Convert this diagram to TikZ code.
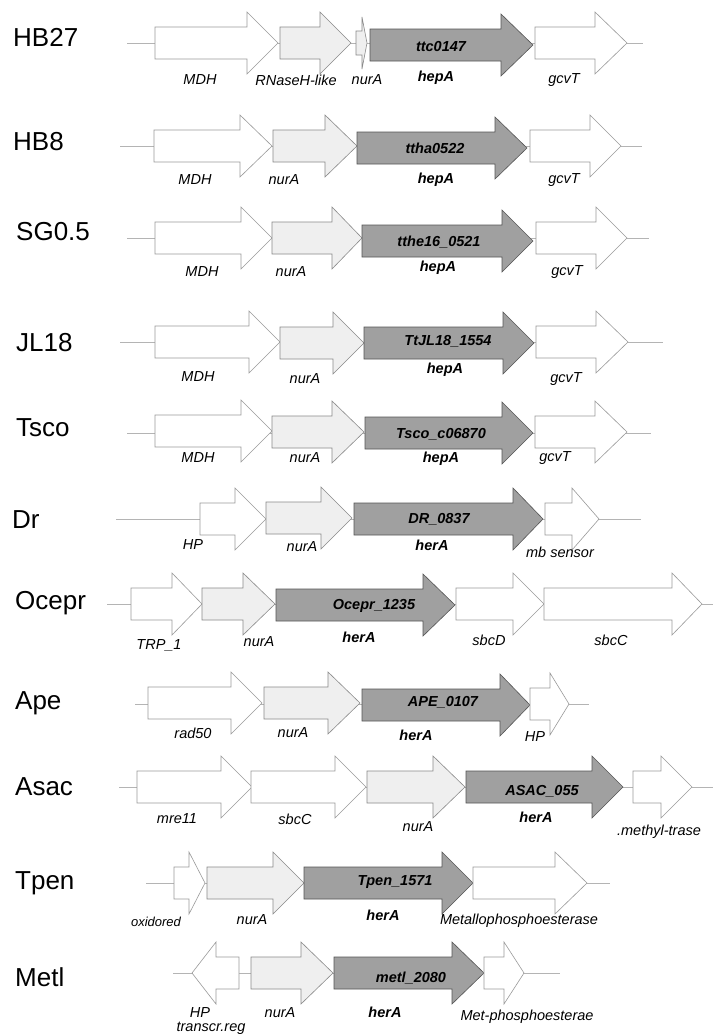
\documentclass[tikz,border=0pt]{standalone}
\usepackage{fontspec}
\setmainfont{Liberation Sans}
\definecolor{linegray}{HTML}{B4B4B4}
\definecolor{outgray}{HTML}{9A9A9A}
\definecolor{outmid}{HTML}{8A8A8A}
\definecolor{outdark}{HTML}{555555}
\definecolor{lightfill}{HTML}{EFEFEF}
\definecolor{darkfill}{HTML}{A0A0A0}
\newcommand{\garrow}[5]{\draw[#1] (#2,#5-16) -- (#3,#5-16) -- (#3,#5-31) -- (#4,#5) -- (#3,#5+31) -- (#3,#5+16) -- (#2,#5+16) -- cycle;}
\newcommand{\garrowl}[5]{\draw[#1] (#2,#5-16) -- (#3,#5-16) -- (#3,#5-31) -- (#4,#5) -- (#3,#5+31) -- (#3,#5+16) -- (#2,#5+16) -- cycle;}
\begin{document}
\begin{tikzpicture}[x=1pt,y=-1pt,
 gline/.style={draw=linegray, line width=0.6pt},
 wgene/.style={draw=outgray, fill=white, line width=0.6pt, line join=miter},
 lgene/.style={draw=outmid, fill=lightfill, line width=0.6pt},
 dgene/.style={draw=outdark, fill=darkfill, line width=0.6pt},
 strain/.style={anchor=west, inner sep=0pt, font=\fontsize{26}{28}\selectfont},
 glab/.style={inner sep=0pt, font=\fontsize{14.5}{16}\selectfont\itshape},
 slab/.style={inner sep=0pt, font=\fontsize{13}{15}\selectfont\itshape},
 hlab/.style={inner sep=0pt, font=\fontsize{14.5}{16}\selectfont\bfseries\itshape},
]
\useasboundingbox (0,0) rectangle (713,1034);
\fill[white] (0,0) rectangle (713,1034);

% ---------- HB27
\node[strain] (s1) at (13,37) {HB27};
\draw[gline] (127,43) -- (643,43);
\garrow{wgene}{155}{247}{278}{43}
\garrow{lgene}{280}{320}{351}{43}
\draw[lgene] (356,31) -- (362,31) -- (362,17) -- (367,43) -- (362,69) -- (362,55) -- (356,55) -- cycle;
\garrow{dgene}{370}{501}{533}{45}
\garrow{wgene}{535}{595}{627}{43}
\node[hlab] (g1) at (441,47) {ttc0147};
\node[glab] (l1a) at (200,80) {MDH};
\node[glab] (l1b) at (296,80) {RNaseH-like};
\node[glab] (l1c) at (367,80) {nurA};
\node[hlab] (l1d) at (436,78) {hepA};
\node[glab] (l1e) at (564,80) {gcvT};

% ---------- HB8
\node[strain] (s2) at (13,142) {HB8};
\draw[gline] (120,146) -- (642,146);
\garrow{wgene}{154}{240}{272}{146}
\garrow{lgene}{273}{325}{357}{146}
\garrow{dgene}{357}{495}{527}{148}
\garrow{wgene}{530}{590}{621}{146}
\node[hlab] (g2) at (435,148) {ttha0522};
\node[glab] (l2a) at (195,180) {MDH};
\node[glab] (l2b) at (284,180) {nurA};
\node[hlab] (l2c) at (436,180) {hepA};
\node[glab] (l2d) at (564,180) {gcvT};

% ---------- SG0.5
\node[strain] (s3) at (16,232) {SG0.5};
\draw[gline] (127,238) -- (649,238);
\garrow{wgene}{155}{241}{272}{238}
\garrow{lgene}{272}{332}{362}{238}
\garrow{dgene}{362}{502}{533}{241}
\garrow{wgene}{536}{596}{627}{238}
\node[hlab] (g3) at (439,242) {tthe16\_0521};
\node[glab] (l3a) at (202,272) {MDH};
\node[glab] (l3b) at (291,272) {nurA};
\node[hlab] (l3c) at (438,268) {hepA};
\node[glab] (l3d) at (567,272) {gcvT};

% ---------- JL18
\node[strain] (s4) at (16,343) {JL18};
\draw[gline] (120,342) -- (663,342);
\garrow{wgene}{155}{249}{280}{342}
\garrow{lgene}{280}{333}{364}{343}
\garrow{dgene}{364}{503}{534}{343}
\garrow{wgene}{536}{596}{628}{342}
\node[hlab] (g4) at (448,341) {TtJL18\_1554};
\node[glab] (l4a) at (198,377) {MDH};
\node[glab] (l4b) at (305,379) {nurA};
\node[hlab] (l4c) at (445,370) {hepA};
\node[glab] (l4d) at (566,379) {gcvT};

% ---------- Tsco
\node[strain] (s5) at (16,428) {Tsco};
\draw[gline] (127,433) -- (651,433);
\garrow{wgene}{155}{241}{272}{431}
\garrow{lgene}{272}{332}{364}{432}
\garrow{dgene}{365}{502}{533}{433}
\garrow{wgene}{535}{595}{627}{432}
\node[hlab] (g5) at (441,434) {Tsco\_c06870};
\node[glab] (l5a) at (198,458) {MDH};
\node[glab] (l5b) at (305,458) {nurA};
\node[hlab] (l5c) at (441,459) {hepA};
\node[glab] (l5d) at (555,458) {gcvT};

% ---------- Dr
\node[strain] (s6) at (12,520) {Dr};
\draw[gline] (116,519) -- (641,519);
\garrow{wgene}{200}{235}{266}{519}
\garrow{lgene}{266}{321}{352}{518}
\garrow{dgene}{354}{513}{543}{519}
\garrow{wgene}{545}{572}{599}{519}
\node[hlab] (g6) at (439,519) {DR\_0837};
\node[glab] (l6a) at (193,545) {HP};
\node[glab] (l6b) at (302,547) {nurA};
\node[hlab] (l6c) at (432,545) {herA};
\node[glab] (l6d) at (560,552) {mb sensor};

% ---------- Ocepr
\node[strain] (s7) at (15,603) {Ocepr};
\draw[gline] (107,604) -- (713,604);
\garrow{wgene}{131}{172}{202}{604}
\garrow{lgene}{202}{243}{275}{604}
\garrow{dgene}{276}{423}{455}{605}
\garrow{wgene}{456}{513}{544}{604}
\garrow{wgene}{544}{672}{702}{604}
\node[hlab] (g7) at (374,606) {Ocepr\_1235};
\node[glab] (l7a) at (159,645) {TRP\_1};
\node[glab] (l7b) at (259,642) {nurA};
\node[hlab] (l7c) at (359,637) {herA};
\node[glab] (l7d) at (489,640) {sbcD};
\node[glab] (l7e) at (611,640) {sbcC};

% ---------- Ape
\node[strain] (s8) at (15,703) {Ape};
\draw[gline] (135,704) -- (589,704);
\garrow{wgene}{148}{231}{262}{703}
\garrow{lgene}{264}{328}{360}{703}
\garrow{dgene}{362}{500}{530}{705}
\garrow{wgene}{530}{550}{569}{704}
\node[hlab] (g8) at (443,702) {APE\_0107};
\node[glab] (l8a) at (193,733) {rad50};
\node[glab] (l8b) at (293,733) {nurA};
\node[hlab] (l8c) at (416,735) {herA};
\node[glab] (l8d) at (535,737) {HP};

% ---------- Asac
\node[strain] (s9) at (15,787) {Asac};
\draw[gline] (119,787) -- (713,787);
\garrow{wgene}{137}{221}{252}{787}
\garrow{wgene}{251}{335}{366}{787}
\garrow{lgene}{367}{433}{465}{787}
\garrow{dgene}{466}{592}{623}{787}
\garrow{wgene}{633}{661}{692}{787}
\node[hlab] (g9) at (542,791) {ASAC\_055};
\node[glab] (l9a) at (177,819) {mre11};
\node[glab] (l9b) at (295,819) {sbcC};
\node[glab] (l9c) at (418,827) {nurA};
\node[hlab] (l9d) at (536,817) {herA};
\node[glab] (l9e) at (659,832) {.methyl-trase};

% ---------- Tpen
\node[strain] (s10) at (15,883) {Tpen};
\draw[gline] (146,883) -- (610,883);
\garrow{wgene}{174}{189}{205}{883}
\garrow{lgene}{207}{273}{304}{883}
\garrow{dgene}{304}{442}{473}{883}
\garrow{wgene}{473}{555}{587}{883}
\node[hlab] (g10) at (395,882) {Tpen\_1571};
\node[slab] (l10a) at (156,922) {oxidored};
\node[glab] (l10b) at (252,920) {nurA};
\node[hlab] (l10c) at (383,915) {herA};
\node[glab] (l10d) at (519,921) {Metallophosphoesterase};

% ---------- Metl
\node[strain] (s11) at (15,977) {Metl};
\draw[gline] (173,973) -- (560,973);
\garrowl{wgene}{239}{216}{192}{973}
\garrow{lgene}{251}{301}{333}{973}
\garrow{dgene}{334}{452}{484}{973}
\garrow{wgene}{484}{504}{524}{973}
\node[hlab] (g11) at (411,978) {metl\_2080};
\node[glab] (l11a) at (200,1012) {HP};
\node[glab] (l11b) at (211,1028) {transcr.reg};
\node[glab] (l11c) at (280,1013) {nurA};
\node[hlab] (l11d) at (385,1012) {herA};
\node[glab] (l11e) at (527,1017) {Met-phosphoesterae};
\end{tikzpicture}
\end{document}
